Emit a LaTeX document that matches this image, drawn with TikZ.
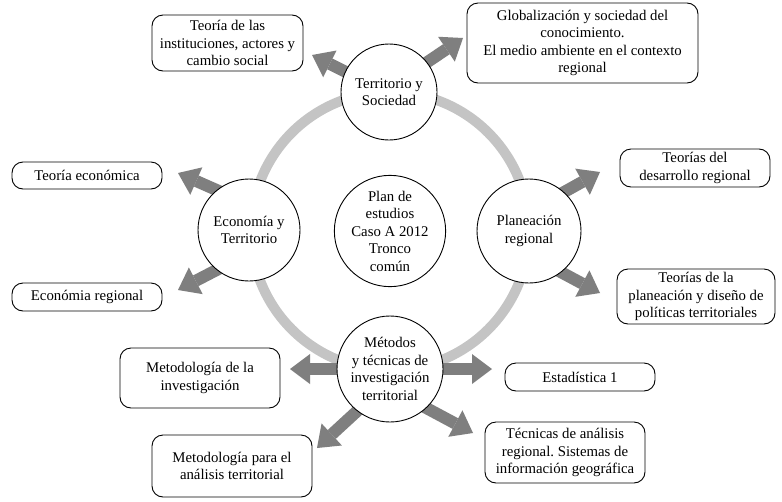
\documentclass[tikz,border=0pt]{standalone}
\usepackage{fontspec}
\setmainfont{Liberation Serif}
\usetikzlibrary{arrows.meta,backgrounds}
\definecolor{ringgray}{HTML}{C4C4C4}
\definecolor{arrowgray}{HTML}{7F7F7F}
\frenchspacing
\begin{document}
\begin{tikzpicture}[x=1pt,y=-1pt,
  txt/.style={font=\fontsize{14.8}{17.5}\selectfont, align=center},
  box/.style={txt, draw, rounded corners=11pt, inner sep=0pt, line width=0.9pt},
  topic/.style={txt, circle, draw, fill=white, inner sep=0pt, line width=0.9pt},
  ringline/.style={line width=10pt, draw=ringgray},
  bigarrow/.style={draw=arrowgray, line width=12pt, -{Triangle[length=20pt,width=30pt,line width=0pt]}, shorten <=-6pt}]
\useasboundingbox (0,0) rectangle (782,501);
% circles
\node[topic, minimum size=96pt] (ts) at (389,92) {Territorio y\\Sociedad};
\node[topic, minimum size=102pt] (et) at (249,230) {Economía y\\Territorio};
\node[topic, minimum size=104pt] (pr) at (529,231) {Planeación\\regional};
\node[topic, minimum size=106pt] (mt) at (390,369) {Métodos\\y técnicas de\\investigación\\territorial};
\node[topic, minimum size=110pt] (pe) at (390,231) {Plan de\\estudios\\Caso A 2012\\Tronco\\común};
% boxes
\node[box, minimum width=151pt, minimum height=56pt] (b1) at (227.5,43) {Teoría de las\\instituciones, actores y\\cambio social};
\node[box, minimum width=231pt, minimum height=80pt] (b2) at (582.5,43) {Globalización y sociedad del\\conocimiento.\\El medio ambiente en el contexto\\regional};
\node[box, minimum width=150pt, minimum height=27pt] (b3) at (87,175.5) {Teoría económica};
\node[box, minimum width=150pt, minimum height=28pt] (b4) at (87,297) {Económia regional};
\node[box, minimum width=150pt, minimum height=38pt] (b5) at (695,168) {Teorías del\\desarrollo regional};
\node[box, minimum width=158pt, minimum height=55pt] (b6) at (696,296.5) {Teorías de la\\planeación y diseño de\\políticas territoriales};
\node[box, minimum width=160pt, minimum height=60pt] (b7) at (200,378) {Metodología de la\\investigación};
\node[box, minimum width=160pt, minimum height=62pt] (b8) at (232,466) {Metodología para el\\análisis territorial};
\node[box, minimum width=150pt, minimum height=28pt] (b9) at (580,377) {Estadística 1};
\node[box, minimum width=160pt, minimum height=61pt] (b10) at (565,452.5) {Técnicas de análisis\\regional. Sistemas de\\información geográfica};
% arrow tips
\coordinate (t1) at (312,55);
\coordinate (t2) at (463,38);
\coordinate (t3) at (178,173);
\coordinate (t4) at (178,290);
\coordinate (t5) at (600,172);
\coordinate (t6) at (600,293);
\coordinate (t7) at (290,369);
\coordinate (t8) at (492,369);
\coordinate (t9) at (317,448);
\coordinate (t10) at (473,433);
\begin{scope}[on background layer]
  \fill[white] (0,0) rectangle (782,501);
  \draw[ringline] (pe.center) circle[radius=139pt];
  \draw[bigarrow] (ts.155) -- (t1);
  \draw[bigarrow] (ts.38) -- (t2);
  \draw[bigarrow] (et.129) -- (t3);
  \draw[bigarrow] (et.231) -- (t4);
  \draw[bigarrow] (pr.48) -- (t5);
  \draw[bigarrow] (pr.308) -- (t6);
  \draw[bigarrow] (mt.180) -- (t7);
  \draw[bigarrow] (mt.0) -- (t8);
  \draw[bigarrow] (mt.232) -- (t9);
  \draw[bigarrow] (mt.313) -- (t10);
\end{scope}
\end{tikzpicture}
\end{document}
